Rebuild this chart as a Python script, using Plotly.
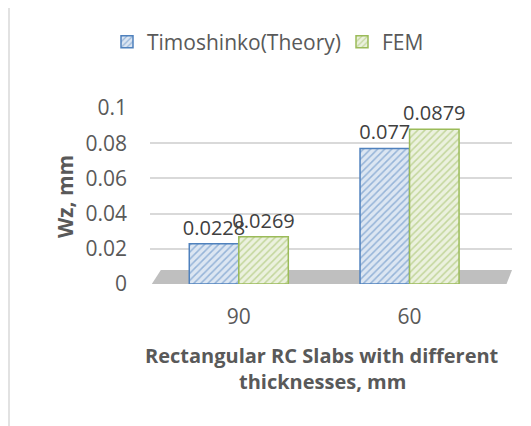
import plotly.graph_objects as go

categories = ["90", "60"]
theory_vals = [0.0228, 0.077]
fem_vals = [0.0269, 0.0879]
series_names = ["Timoshinko(Theory)", "FEM"]
x_title_lines = ["Rectangular RC Slabs with different", "thicknesses, mm"]
y_title = "Wz, mm"

W, H = 531, 426
ml, mr, mt, mb = 142, 27, 100, 150
pw = W - ml - mr
ph = H - mt - mb

def px_x(p):
    return (p - ml) / pw

def px_y(p):
    return (H - mb - p) / ph

font_fam = "Open Sans, Noto Sans, sans-serif"
txt_gray = "#595959"
FS = 20
FT = 21

fig = go.Figure()
fig.add_trace(go.Bar(
    x=categories, y=theory_vals, name=series_names[0], legend="legend",
    marker=dict(color="#DCE6F2", line=dict(color="#4F81BD", width=1.5),
                pattern=dict(shape="/", fgcolor="#4F81BD", bgcolor="#DCE6F2", size=5, solidity=0.3)),
    text=[str(v) for v in theory_vals], textposition="outside", constraintext="none",
    textfont=dict(size=FS, color="#404040", family=font_fam), cliponaxis=False,
))
fig.add_trace(go.Bar(
    x=categories, y=fem_vals, name=series_names[1], legend="legend2",
    marker=dict(color="#EBF1DE", line=dict(color="#9BBB59", width=1.5),
                pattern=dict(shape="/", fgcolor="#9BBB59", bgcolor="#EBF1DE", size=5, solidity=0.3)),
    text=[str(v) for v in fem_vals], textposition="outside", constraintext="none",
    textfont=dict(size=FS, color="#404040", family=font_fam), cliponaxis=False,
))

# gray floor (3D base)
fig.add_shape(type="path", xref="paper", yref="paper", layer="below",
              path="M 0.005,0 L 0.985,0 L 1.0,0.08 L 0.03,0.08 Z",
              fillcolor="#BFBFBF", line=dict(width=0))
# left chart border
fig.add_shape(type="line", xref="paper", yref="paper",
              x0=px_x(1), x1=px_x(1), y0=px_y(H), y1=px_y(0),
              line=dict(color="#D9D9D9", width=1.5))

# axis titles
for line_text, yc in zip(x_title_lines, [347, 373]):
    fig.add_annotation(text="<b>" + line_text + "</b>", xref="paper", yref="paper",
                       x=px_x(314), y=px_y(yc), showarrow=False, xanchor="center", yanchor="middle",
                       font=dict(size=FS, color=txt_gray, family=font_fam))
fig.add_annotation(text="<b>" + y_title + "</b>", xref="paper", yref="paper",
                   x=px_x(57), y=px_y(189), showarrow=False, xanchor="center", yanchor="middle",
                   textangle=-90, font=dict(size=21, color=txt_gray, family=font_fam))

leg_common = dict(orientation="h", xanchor="left", xref="container", yref="container",
                  y=1 - 34 / H, yanchor="middle",
                  font=dict(size=FT, color=txt_gray, family=font_fam), itemwidth=30)

fig.update_layout(
    width=W, height=H,
    margin=dict(l=ml, r=mr, t=mt, b=mb, autoexpand=False),
    paper_bgcolor="white", plot_bgcolor="white",
    font=dict(family=font_fam, color=txt_gray, size=FS),
    barmode="group", bargap=0.42, bargroupgap=0,
    showlegend=True,
    legend=dict(x=99 / W, **leg_common),
    legend2=dict(x=334 / W, **leg_common),
    xaxis=dict(range=[-0.52, 1.6], showgrid=False, showline=False, ticks="",
               tickfont=dict(size=FT, color=txt_gray), ticklabelstandoff=18),
    yaxis=dict(range=[0, 0.1], dtick=0.02, showgrid=True, gridcolor="#D9D9D9", gridwidth=1.5,
               zeroline=False, showline=False, ticks="", tickfont=dict(size=FT, color=txt_gray),
               tickformat="~g", ticklabelstandoff=22),
)

fig.write_html("out.html")
